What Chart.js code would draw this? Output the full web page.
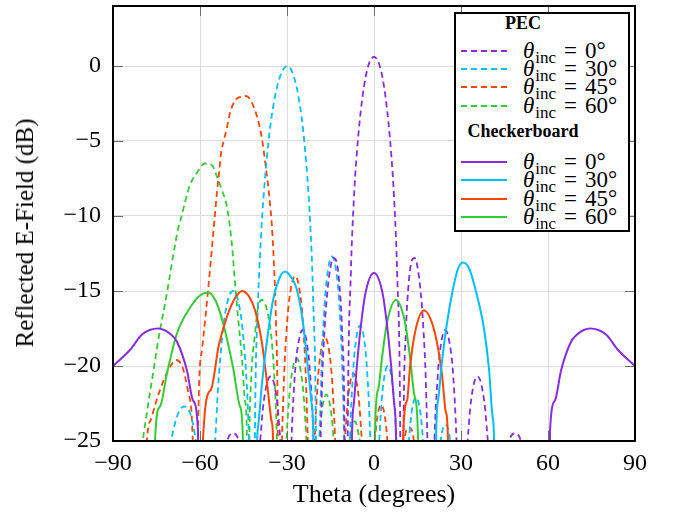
<!DOCTYPE html>
<html><head><meta charset="utf-8">
<script src="https://cdn.jsdelivr.net/npm/chart.js@4"></script>
<style>
html,body{margin:0;padding:0;background:#fff;}
#wrap{position:relative;width:673px;height:512px;overflow:hidden;}
canvas{position:absolute;left:0;top:0;}
#ytitle{position:absolute;left:25px;top:233px;transform:translate(-50%,-50%) rotate(-90deg);font-family:'Liberation Serif','Times New Roman',serif;font-size:25px;line-height:28px;white-space:nowrap;color:#000;}
#legend{position:absolute;left:454px;top:12px;width:176px;height:220px;border:2px solid #000;background:#fff;box-sizing:border-box;font-family:'Liberation Serif','Times New Roman',serif;color:#000;}
.hdr{position:absolute;left:7px;width:120px;text-align:center;font-weight:bold;font-size:18px;line-height:20px;}
.row{position:absolute;left:0;height:20px;width:172px;}
.row svg{position:absolute;left:5px;top:9px;}
.lbl{position:absolute;left:67px;top:0;font-size:23px;line-height:20px;white-space:nowrap;}
.lbl i{font-style:italic;}
.lbl sub{font-size:17px;vertical-align:baseline;position:relative;top:5px;margin-right:8px;margin-left:1px;}
.lbl .eq{margin-right:8px;}
</style>
</head><body>
<div id="wrap">
<canvas id="c" width="673" height="512"></canvas>
<div id="ytitle">Reflected E-Field (dB)</div>
<div id="legend"></div>
</div>
<script>
// ---- data (theta in degrees, reflected field in dB) ----
const xTicks = [-90, -60, -30, 0, 30, 60, 90];
const yTicks = [-25, -20, -15, -10, -5, 0];
const incAngles = [0, 30, 45, 60];
const groupTitles = ['PEC', 'Checkerboard'];
const seriesColors = ['#8a2be2', '#00bfff', '#ff4500', '#32cd32'];

// PEC (dashed)
const pec0Theta = [-90,-56.4,-52.3,-48.6,-45.1,-41.8,-40.2,-38.7,-37.2,-35.7,-34.2,-32.8,-31.4,-30,-29.3,-28.6,-27.3,-25.9,-24.6,-23.3,-22,-20.7,-20.1,-19.5,-19,-18,-17,-16,-15,-14,-13,-12,-11,-10.2,-9.6,-9,-8,-7,-6,-4,-2,0,2,4,6,7,8,9,9.6,10.2,11,12,13,14,15,16,17,18,19,19.5,20.1,20.7,22,23.3,24.6,25.9,27.3,28.6,29.3,30,31.4,32.8,34.2,35.7,37.2,38.7,40.2,41.8,45.1,48.6,52.3,56.4,90];
const pec0Db = [-45,-45,-27.5,-24.5,-27.5,-45,-29,-23.7,-21.4,-20.7,-21.4,-23.7,-29,-45,-31.8,-25.9,-20.6,-18.3,-17.6,-18.3,-20.6,-25.9,-31.8,-45,-32,-21.9,-17.4,-14.9,-13.4,-12.8,-13.0,-14.4,-17.7,-24.0,-45,-23.2,-13.9,-9.1,-6.0,-2.1,0.0,0.6,0.0,-2.1,-6.0,-9.1,-13.9,-23.2,-45,-24.0,-17.7,-14.4,-13.0,-12.8,-13.4,-14.9,-17.4,-21.9,-32,-45,-31.8,-25.9,-20.6,-18.3,-17.6,-18.3,-20.6,-25.9,-31.8,-45,-29,-23.7,-21.4,-20.7,-21.4,-23.7,-29,-45,-27.5,-24.5,-27.5,-45,-45];

const pec30Theta = [-90,-76,-71,-68,-65.5,-63,-60.8,-58.5,-56.4,-55.4,-54.3,-52.3,-50.5,-48.6,-46.8,-45.1,-43.4,-42.6,-41.8,-41,-40,-39,-38,-36,-34,-32,-30,-28,-26,-24,-22,-21,-20,-19.47,-18.84,-18.21,-16.96,-15.71,-14.48,-13.25,-12.02,-10.81,-10.2,-9.59,-8.99,-8.39,-7.18,-5.98,-4.78,-3.58,-2.39,-1.19,-0.6,0,0.6,1.19,2.39,3.58,4.78,5.98,7.18,8.39,8.99,9.59,10.81,12.02,14.48,16.96,18.21,19.47,20.7,22.0,24.62,27.3,28.6,30,90];
const pec30Db = [-45,-32,-26,-23.4,-22.7,-23.4,-26,-31,-45,-29.2,-23.3,-18,-15.7,-15,-15.7,-18,-23.3,-29.2,-45,-23.5,-15.8,-11.5,-8.5,-4.4,-1.9,-0.5,0,-0.5,-2.1,-5.1,-10.5,-15.4,-25.2,-45,-26.9,-21,-15.7,-13.4,-12.7,-13.4,-15.7,-21,-26.9,-45,-31.5,-25.6,-20.3,-18.0,-17.3,-18.0,-20.3,-25.6,-31.5,-45,-34.2,-28.3,-23,-20.7,-20,-20.7,-23,-28.3,-34.2,-45,-30.4,-25.1,-22.1,-25.1,-30.4,-45,-32,-26.9,-23.9,-26.9,-32,-45,-45];

const pec45Theta = [-90,-80,-78.3,-76.6,-73.8,-71,-68.2,-66,-64,-62.5,-61.3,-60.6,-59.3,-57.2,-54.8,-54.1,-53.4,-52.8,-51.7,-50.7,-49.6,-47.9,-46,-44.3,-42.8,-40,-38.6,-37.6,-36.6,-35.9,-35.2,-34.6,-33.8,-33.2,-32.7,-32.0,-31.31,-29.92,-28.55,-27.2,-25.87,-24.54,-23.24,-22.59,-21.95,-21.3,-20.67,-19.4,-18.14,-16.88,-15.64,-14.4,-13.17,-12.55,-11.95,-10.74,-9.52,-8.31,-7.11,-5.91,-4.71,-3.51,-2.32,-1.12,0.07,2.46,4.85,6.05,7.25,9.67,12.1,14.55,17.03,90];
const pec45Db = [-45,-32,-24.9,-23.4,-21.6,-20.3,-19.6,-20.1,-21.8,-25,-45,-23.6,-18.9,-14.9,-9.8,-8.3,-7.1,-5.9,-4.9,-4.1,-3.1,-2.3,-2.05,-2.0,-2.2,-3.6,-4.9,-6.3,-7.8,-9.1,-10.7,-12.8,-17,-24,-45,-28.2,-22.3,-17,-14.7,-14,-14.7,-17,-22.3,-28.2,-45,-32.3,-26.4,-21.1,-18.8,-18.1,-18.8,-21.1,-26.4,-32.3,-45,-28.8,-23.5,-21.2,-20.5,-21.2,-23.5,-28.8,-45,-30.9,-25.6,-22.6,-25.6,-30.9,-45,-27.1,-24.1,-27.1,-45,-45];

const pec60Theta = [-90,-82,-79.7,-78.3,-76.2,-73.8,-72,-70,-68.6,-67.6,-66.2,-65.2,-63.4,-61,-58.3,-55.9,-54.1,-52.4,-50.7,-49,-47.9,-46.9,-45.5,-44.5,-43.8,-43.4,-43.0,-42.5,-41,-40,-38.6,-37,-35.05,-33.6,-32.9,-32.2,-31.49,-30.79,-29.4,-28.05,-26.7,-25.38,-24.06,-22.76,-22.11,-21.5,-20.19,-18.92,-17.67,-16.42,-15.18,-13.95,-12.72,-11.5,-9.07,-7.86,-6.66,-5.46,-4.26,-1.87,90];
const pec60Db = [-40,-30,-25,-23.1,-20.5,-17.6,-15.8,-13.5,-11.9,-10.9,-9.9,-9.1,-7.9,-7.1,-6.5,-6.6,-7.4,-8.3,-9.4,-11.9,-14.5,-16.7,-19.6,-22.3,-24.9,-45,-26,-21.5,-17.8,-16.1,-15.6,-16.2,-18.8,-24.1,-30,-45,-33.7,-27.8,-22.5,-20.2,-19.5,-20.2,-22.5,-27.8,-33.7,-45,-30.2,-24.9,-22.6,-21.9,-22.6,-24.9,-30.2,-45,-26.7,-24.4,-23.7,-24.4,-26.7,-45,-45];

// Checkerboard (solid)
const chk0Theta = [-90,-84,-80,-74.5,-70,-67.9,-64.5,-62.4,-60.7,-59.8,-8.2,-7.6,-7,-6,-4.8,-3,0,3,4.8,6,7,7.6,8.2,59.8,60.7,62.4,64.5,67.9,70,74.5,80,84,90];
const chk0Db = [-20,-18.9,-17.9,-17.5,-17.9,-18.4,-20.3,-22.3,-24.3,-45,-45,-24.9,-22.6,-20.2,-17.8,-15.2,-13.8,-15.2,-17.8,-20.2,-22.6,-24.9,-45,-45,-24.3,-22.3,-20.3,-18.4,-17.9,-17.5,-17.9,-18.9,-20];

const chk30Theta = [-90,-41,-40.3,-40,-38.6,-36.9,-34.8,-32.5,-30.7,-28.5,-26.6,-24.5,-22.8,-21.4,-20.9,-20.4,20.9,21.4,22.1,23.4,25.2,27.2,29,30.7,32.8,35,38,39.7,40.9,41.4,41.9,90];
const chk30Db = [-45,-45,-25,-24.1,-21.1,-18.3,-15.6,-14.1,-13.7,-14.1,-14.9,-17.1,-20.1,-22.7,-25,-45,-45,-24.9,-22.3,-19.8,-17.1,-14.9,-13.5,-13.1,-13.5,-14.9,-17.6,-20.3,-23.4,-25,-45,-45];

const chk45Theta = [-90,-59.5,-59,-56.3,-53.5,-50.5,-48,-45.5,-43,-41,-38.6,-36.9,-35.2,-34.8,-34.4,9.6,10,11.4,12.4,14.1,17.2,21,23.4,24.8,25.5,25.9,90];
const chk45Db = [-45,-45,-25,-21.6,-18.6,-16.6,-15.5,-15,-15.4,-16.3,-18.5,-21.1,-23.8,-25,-45,-45,-24.9,-22.3,-20.1,-17.8,-16.3,-17.8,-20.5,-23.1,-24.9,-45,-45];

const chk60Theta = [-90,-76,-75.5,-73.8,-71.4,-67.9,-63.4,-60,-57.2,-54.5,-52.1,-48.6,-46.2,-45.2,-44.8,0,0.3,1.4,2.8,4.5,7.6,10.7,12.4,14.1,15.2,15.6,90];
const chk60Db = [-45,-45,-24.9,-22.7,-20.5,-17.8,-16.1,-15.3,-15.1,-15.7,-17.1,-20.1,-22.7,-24.9,-45,-45,-24.7,-21.6,-19.4,-17.1,-15.6,-17.1,-19.4,-22.1,-24.9,-45,-45];

// ---- build datasets ----
const pts = (t, d) => t.map((v, i) => ({x: v, y: d[i]}));
const pecSets = [[pec0Theta, pec0Db], [pec30Theta, pec30Db], [pec45Theta, pec45Db], [pec60Theta, pec60Db]];
const chkSets = [[chk0Theta, chk0Db], [chk30Theta, chk30Db], [chk45Theta, chk45Db], [chk60Theta, chk60Db]];
const DASH = [6, 4];
const datasets = [];
pecSets.forEach((s, i) => datasets.push({
  label: 'PEC ' + incAngles[i], data: pts(s[0], s[1]), borderColor: seriesColors[i],
  borderWidth: 1.8, borderDash: DASH, pointRadius: 0, fill: false,
  cubicInterpolationMode: 'monotone', order: 1, clip: 0
}));
chkSets.forEach((s, i) => datasets.push({
  label: 'Checkerboard ' + incAngles[i], data: pts(s[0], s[1]), borderColor: seriesColors[i],
  borderWidth: 2, pointRadius: 0, fill: false,
  cubicInterpolationMode: 'monotone', order: 0, clip: 0
}));

const FONT = "'Liberation Serif','Times New Roman',serif";
const minus = v => String(v).replace('-', '\u2212');

const framePlugin = {
  id: 'frame',
  afterDatasetsDraw(chart) {
    const {ctx, chartArea: {left, right, top, bottom}, scales: {x, y}} = chart;
    ctx.save();
    ctx.strokeStyle = '#6e6e6e';
    ctx.lineWidth = 1;
    ctx.beginPath();
    xTicks.forEach(v => {
      const px = Math.round(x.getPixelForValue(v)) + 0.5;
      ctx.moveTo(px, bottom); ctx.lineTo(px, bottom - 10);
      ctx.moveTo(px, top); ctx.lineTo(px, top + 10);
    });
    yTicks.forEach(v => {
      const py = Math.round(y.getPixelForValue(v)) + 0.5;
      ctx.moveTo(left, py); ctx.lineTo(left + 10, py);
      ctx.moveTo(right, py); ctx.lineTo(right - 10, py);
    });
    ctx.stroke();
    ctx.strokeStyle = '#000';
    ctx.lineWidth = 2;
    ctx.strokeRect(left, top, right - left, bottom - top);
    ctx.restore();
  }
};

new Chart(document.getElementById('c'), {
  type: 'line',
  data: {datasets},
  options: {
    responsive: false, animation: false, devicePixelRatio: 1,
    layout: {padding: {top: 6, right: 38, left: 0, bottom: 0}},
    plugins: {legend: {display: false}, tooltip: {enabled: false}},
    scales: {
      x: {
        type: 'linear', min: -90, max: 90,
        afterBuildTicks: s => { s.ticks = xTicks.map(v => ({value: v})); },
        afterFit: s => { s.height = 71; s.paddingLeft = 0; s.paddingRight = 0; },
        ticks: {color: '#000', font: {family: FONT, size: 24}, padding: 8, callback: minus, maxRotation: 0},
        grid: {color: '#dcdcdc', lineWidth: 1, drawTicks: false},
        border: {display: false},
        title: {display: true, text: 'Theta (degrees)', color: '#000', font: {family: FONT, size: 26}, padding: {top: 0, bottom: 1}}
      },
      y: {
        type: 'linear', min: -25, max: 4,
        afterBuildTicks: s => { s.ticks = yTicks.map(v => ({value: v})); },
        afterFit: s => { s.width = 113; s.paddingTop = 0; s.paddingBottom = 0; },
        ticks: {color: '#000', font: {family: FONT, size: 24}, padding: 12, callback: minus},
        grid: {color: '#dcdcdc', lineWidth: 1, drawTicks: false},
        border: {display: false},
        title: {display: false}
      }
    }
  },
  plugins: [framePlugin]
});

// ---- legend (HTML text) ----
const legend = document.getElementById('legend');
const headerTops = [-1, 107];
const rowTops = [[27, 45, 63, 82], [138, 156, 175, 193]];
groupTitles.forEach((g, gi) => {
  const h = document.createElement('div');
  h.className = 'hdr'; h.style.top = headerTops[gi] + 'px'; h.textContent = g;
  legend.appendChild(h);
  incAngles.forEach((a, i) => {
    const r = document.createElement('div');
    r.className = 'row'; r.style.top = rowTops[gi][i] + 'px';
    const dash = gi === 0 ? ' stroke-dasharray="6 4"' : '';
    r.innerHTML = '<svg width="46" height="2"><line x1="0" y1="1" x2="46" y2="1" stroke="' + seriesColors[i] + '" stroke-width="2"' + dash + '/></svg>' +
      '<span class="lbl"><i>\u03b8</i><sub>inc</sub><span class="eq">=</span>' + a + '\u00b0</span>';
    legend.appendChild(r);
  });
});
</script>
</body></html>
